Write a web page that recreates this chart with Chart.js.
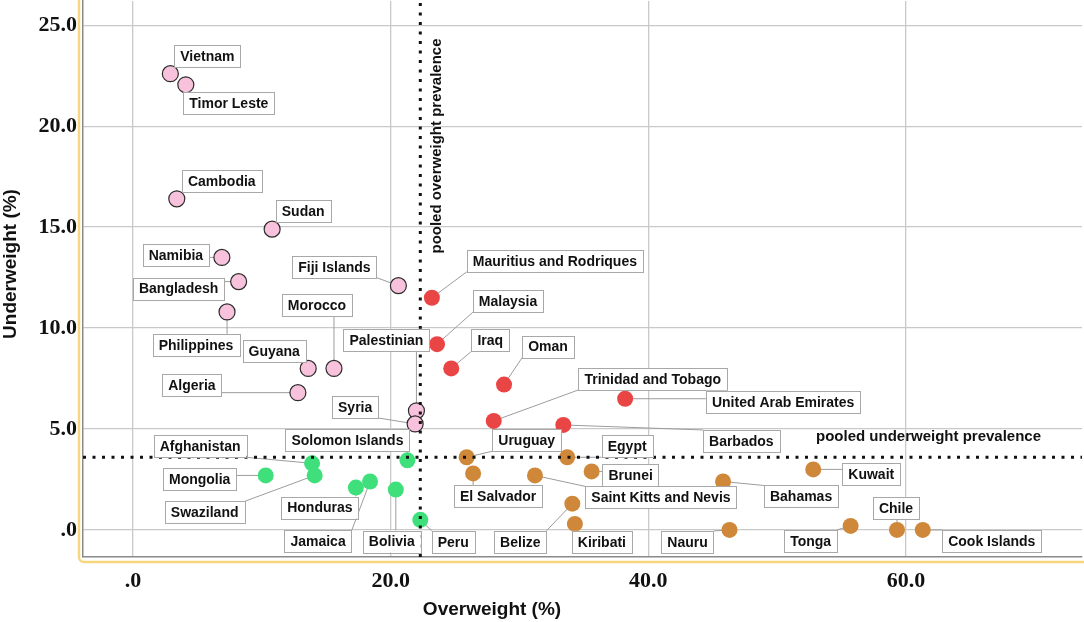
<!DOCTYPE html>
<html>
<head>
<meta charset="utf-8">
<script src="https://cdn.jsdelivr.net/npm/chart.js@4.4.1/dist/chart.umd.min.js"></script>
<style>
  html, body { margin: 0; padding: 0; background: #fff; }
  #wrap { width: 1084px; height: 622px; }
</style>
</head>
<body>
<div id="wrap"><canvas id="chart-scatter" width="1084" height="622"></canvas></div>
<script>
// ---- data ----
const countries = [
    'Vietnam', 'Timor Leste', 'Cambodia', 'Sudan', 'Namibia', 'Bangladesh', 'Philippines',
    'Fiji Islands', 'Morocco', 'Guyana', 'Algeria', 'Palestinian', 'Syria',
    'Mauritius and Rodriques', 'Malaysia', 'Iraq', 'Oman', 'Trinidad and Tobago',
    'United Arab Emirates', 'Barbados',
    'Uruguay', 'Egypt', 'El Salvador', 'Saint Kitts and Nevis', 'Brunei', 'Bahamas', 'Kuwait',
    'Belize', 'Kiribati', 'Nauru', 'Tonga', 'Chile', 'Cook Islands',
    'Afghanistan', 'Swaziland', 'Mongolia', 'Honduras', 'Jamaica', 'Bolivia',
    'Solomon Islands', 'Peru'
]
const overweight = [
    2.9, 4.1, 3.4, 10.8, 6.9, 8.2, 7.3,
    20.6, 15.6, 13.6, 12.8, 22.0, 21.9,
    23.2, 23.6, 24.7, 28.8, 28.0,
    38.2, 33.4,
    25.9, 33.7, 26.4, 31.2, 35.6, 45.8, 52.8,
    34.1, 34.3, 46.3, 55.7, 59.3, 61.3,
    13.9, 14.1, 10.3, 17.3, 18.4, 20.4,
    21.3, 22.3
]
const underweight = [
    22.6, 22.05, 16.4, 14.9, 13.5, 12.3, 10.8,
    12.1, 8.0, 8.0, 6.8, 5.9, 5.25,
    11.5, 9.2, 8.0, 7.2, 5.4,
    6.5, 5.2,
    3.6, 3.6, 2.8, 2.7, 2.9, 2.4, 3.0,
    1.3, 0.3, 0.0, 0.2, 0.0, 0.0,
    3.3, 2.7, 2.7, 2.1, 2.4, 2.0,
    3.45, 0.5
]
// quadrant of each country against the pooled prevalences
const quadrant = [
    'lowOverHighUnder', 'lowOverHighUnder', 'lowOverHighUnder', 'lowOverHighUnder', 'lowOverHighUnder', 'lowOverHighUnder', 'lowOverHighUnder',
    'lowOverHighUnder', 'lowOverHighUnder', 'lowOverHighUnder', 'lowOverHighUnder', 'lowOverHighUnder', 'lowOverHighUnder',
    'highOverHighUnder', 'highOverHighUnder', 'highOverHighUnder', 'highOverHighUnder', 'highOverHighUnder',
    'highOverHighUnder', 'highOverHighUnder',
    'highOverLowUnder', 'highOverLowUnder', 'highOverLowUnder', 'highOverLowUnder', 'highOverLowUnder', 'highOverLowUnder', 'highOverLowUnder',
    'highOverLowUnder', 'highOverLowUnder', 'highOverLowUnder', 'highOverLowUnder', 'highOverLowUnder', 'highOverLowUnder',
    'lowOverLowUnder', 'lowOverLowUnder', 'lowOverLowUnder', 'lowOverLowUnder', 'lowOverLowUnder', 'lowOverLowUnder',
    'lowOverLowUnder', 'lowOverLowUnder'
]
const pooledOverweight = 22.3
const pooledUnderweight = 3.6
const xTicks = [0, 20, 40, 60]
const yTicks = [0, 5, 10, 15, 20, 25]
const quadrantOrder = ['lowOverHighUnder', 'highOverHighUnder', 'lowOverLowUnder', 'highOverLowUnder']

// ---- look ----
const quadrantColors = {
    lowOverHighUnder: ['#f9c2dc', '#2b2b2b', 1.2],
    highOverHighUnder: ['#ea4545', '#ea4545', 0],
    lowOverLowUnder: ['#3fe07c', '#3fe07c', 0],
    highOverLowUnder: ['#cf883a', '#cf883a', 0]
}
// centre of each label box relative to its point, in pixels
const labelOffsets = {
    'Vietnam': [37, -18], 'Timor Leste': [43, 18], 'Cambodia': [45, -18], 'Sudan': [31, -18],
    'Namibia': [-46, -2], 'Bangladesh': [-60, 7], 'Philippines': [-31, 33], 'Fiji Islands': [-64, -19],
    'Morocco': [-17, -63], 'Guyana': [-34, -17], 'Algeria': [-106, -8], 'Palestinian': [-30, -71],
    'Syria': [-60, -17],
    'Mauritius and Rodriques': [123, -37], 'Malaysia': [71, -43], 'Iraq': [39, -28], 'Oman': [44, -38],
    'Trinidad and Tobago': [159, -42], 'United Arab Emirates': [158, 3], 'Barbados': [178, 16],
    'Uruguay': [60, -17], 'Egypt': [60, -11], 'El Salvador': [25, 23], 'Saint Kitts and Nevis': [126, 22],
    'Brunei': [39, 4], 'Bahamas': [78, 15], 'Kuwait': [58, 5], 'Belize': [-52, 38], 'Kiribati': [27, 18],
    'Nauru': [-42, 12], 'Tonga': [-40, 15], 'Chile': [-1, -22], 'Cook Islands': [69, 11],
    'Afghanistan': [-112, -17], 'Swaziland': [-110, 37], 'Mongolia': [-66, 4], 'Honduras': [-36, 20],
    'Jamaica': [-52, 60], 'Bolivia': [-4, 52], 'Solomon Islands': [-60, -20], 'Peru': [33, 22]
}
const boxFont = 'bold 14px "Liberation Sans", Arial, sans-serif'
const refFont = 'bold 15px "Liberation Sans", Arial, sans-serif'
const titleFont = 'bold 19px "Liberation Sans", Arial, sans-serif'

let myDatasets = []
for (let q = 0; q < quadrantOrder.length; q++) {
    let points = []
    for (let i = 0; i < countries.length; i++) {
        if (quadrant[i] == quadrantOrder[q]) {
            points.push({ x: overweight[i], y: underweight[i], name: countries[i] })
        }
    }
    let c = quadrantColors[quadrantOrder[q]]
    myDatasets.push({
        label: quadrantOrder[q],
        data: points,
        backgroundColor: c[0],
        borderColor: c[1],
        borderWidth: c[2],
        pointRadius: 8,
        pointHoverRadius: 8
    })
}

function labelBox(ctx, name, px, py) {
    let off = labelOffsets[name] || [30, -20]
    ctx.font = boxFont
    let w = ctx.measureText(name).width + 12
    let h = 22
    let cx = px + off[0], cy = py + off[1]
    return { x: cx - w / 2, y: cy - h / 2, w: w, h: h, cx: cx, cy: cy }
}

const labelPlugin = {
    id: 'countryLabels',
    beforeDatasetsDraw(chart) {
        // leader lines, under the points
        const ctx = chart.ctx
        ctx.save()
        ctx.strokeStyle = '#9c9c9c'
        ctx.lineWidth = 1
        chart.data.datasets.forEach((ds, di) => {
            chart.getDatasetMeta(di).data.forEach((el, j) => {
                let b = labelBox(ctx, ds.data[j].name, el.x, el.y)
                let tx = Math.min(Math.max(el.x, b.x), b.x + b.w)
                let ty = Math.min(Math.max(el.y, b.y), b.y + b.h)
                ctx.beginPath()
                ctx.moveTo(el.x, el.y)
                ctx.lineTo(tx, ty)
                ctx.stroke()
            })
        })
        ctx.restore()
    },
    afterDatasetsDraw(chart) {
        const ctx = chart.ctx
        const a = chart.chartArea
        const xs = chart.scales.x, ys = chart.scales.y
        ctx.save()
        // pooled prevalence reference lines
        ctx.strokeStyle = '#111'
        ctx.lineWidth = 3
        ctx.setLineDash([3, 6.5])
        let px = xs.getPixelForValue(pooledOverweight)
        ctx.beginPath(); ctx.moveTo(px, a.top + 2); ctx.lineTo(px, a.bottom + 3); ctx.stroke()
        let py = ys.getPixelForValue(pooledUnderweight)
        ctx.beginPath(); ctx.moveTo(a.left, py); ctx.lineTo(a.right, py); ctx.stroke()
        ctx.setLineDash([])

        ctx.fillStyle = '#111'
        ctx.font = refFont
        ctx.textBaseline = 'middle'
        ctx.textAlign = 'left'
        ctx.fillText('pooled underweight prevalence', 816, py - 20)
        ctx.save()
        ctx.translate(px + 17, 146)
        ctx.rotate(-Math.PI / 2)
        ctx.textAlign = 'center'
        ctx.fillText('pooled overweight prevalence', 0, 0)
        ctx.restore()

        // label boxes
        ctx.font = boxFont
        chart.data.datasets.forEach((ds, di) => {
            chart.getDatasetMeta(di).data.forEach((el, j) => {
                let name = ds.data[j].name
                let b = labelBox(ctx, name, el.x, el.y)
                ctx.fillStyle = '#fff'
                ctx.fillRect(b.x, b.y, b.w, b.h)
                ctx.strokeStyle = '#a8a8a8'
                ctx.lineWidth = 1
                ctx.strokeRect(Math.round(b.x) + 0.5, Math.round(b.y) + 0.5, Math.round(b.w), Math.round(b.h))
                ctx.fillStyle = '#111'
                ctx.textAlign = 'center'
                ctx.fillText(name, b.cx, b.cy + 1)
            })
        })
        ctx.restore()
    },
    afterDraw(chart) {
        const ctx = chart.ctx
        const a = chart.chartArea
        ctx.save()
        // yellow selection frame
        ctx.strokeStyle = '#f6d77e'
        ctx.lineWidth = 2.5
        ctx.beginPath()
        ctx.moveTo(a.left - 4, 0)
        ctx.lineTo(a.left - 4, a.bottom)
        ctx.arcTo(a.left - 4, a.bottom + 5, a.left + 2, a.bottom + 5, 5)
        ctx.lineTo(a.right + 2, a.bottom + 5)
        ctx.stroke()
        // axis titles
        ctx.fillStyle = '#111'
        ctx.font = titleFont
        ctx.textAlign = 'center'
        ctx.textBaseline = 'middle'
        ctx.fillText('Overweight (%)', 492, 610)
        ctx.translate(11, 264)
        ctx.rotate(-Math.PI / 2)
        ctx.fillText('Underweight (%)', 0, 0)
        ctx.restore()
    }
}

function fmtTick(v) {
    return v == 0 ? '.0' : v.toFixed(1)
}

let ctx = document.getElementById('chart-scatter').getContext('2d')
let myChartScatter = new Chart(ctx, {
    type: 'scatter',
    data: { datasets: myDatasets },
    options: {
        responsive: false,
        animation: false,
        events: [],
        layout: { autoPadding: false, padding: { top: 1, right: 2, left: 0, bottom: 0 } },
        plugins: { legend: { display: false }, tooltip: { enabled: false } },
        scales: {
            x: {
                type: 'linear',
                min: -3.88,
                max: 73.66,
                afterBuildTicks: (s) => { s.ticks = xTicks.map(v => ({ value: v })) },
                afterFit: (s) => { s.height = 65; s.paddingLeft = 0; s.paddingRight = 0 },
                ticks: {
                    callback: fmtTick,
                    padding: 11,
                    color: '#111',
                    font: { family: '"Liberation Serif", "Times New Roman", serif', size: 22, weight: 'bold' }
                },
                grid: { color: '#c9c9c9', lineWidth: 1.3, drawTicks: false },
                border: { color: '#8a8a8a', width: 1.5 }
            },
            y: {
                type: 'linear',
                min: -1.34,
                max: 26.2,
                afterBuildTicks: (s) => { s.ticks = yTicks.map(v => ({ value: v })) },
                afterFit: (s) => { s.width = 83; s.paddingTop = 0; s.paddingBottom = 0 },
                ticks: {
                    callback: fmtTick,
                    padding: 6,
                    color: '#111',
                    font: { family: '"Liberation Serif", "Times New Roman", serif', size: 22, weight: 'bold' }
                },
                grid: { color: '#c9c9c9', lineWidth: 1.3, drawTicks: false },
                border: { color: '#8a8a8a', width: 1.5 }
            }
        }
    },
    plugins: [labelPlugin]
});
</script>
</body>
</html>
